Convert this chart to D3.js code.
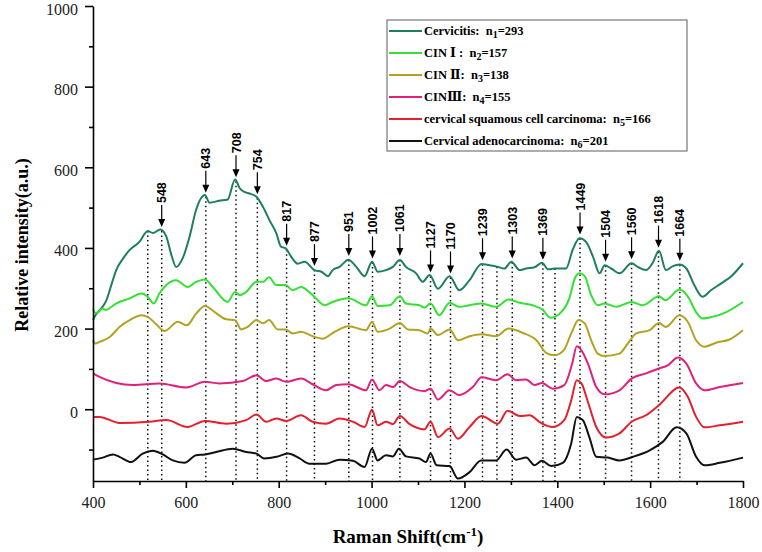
<!DOCTYPE html>
<html lang="en">
<head>
<meta charset="utf-8">
<title>Raman spectra</title>
<script src="https://cdn.jsdelivr.net/npm/d3@7"></script>
<style>
  body { margin: 0; background: #fff; }
  svg { display: block; }
  .axis path, .axis line { stroke: #000; stroke-width: 1.6; }
</style>
</head>
<body>
<script>
// spectra: [raman shift, intensity]
var cervicitis = [[400,221],[407,236],[414,245],[428,268],[440,310],[450,345],[465,374],[479,395],[500,415],[518,442],[529,437],[545,446],[558,428],[568,386],[579,353],[593,374],[608,428],[622,494],[641,531],[651,512],[672,517],[690,520],[706,570],[716,548],[726,539],[737,535],[752,527],[766,502],[780,469],[795,436],[805,403],[815,399],[827,378],[841,361],[856,366],[877,345],[892,341],[906,330],[916,345],[931,353],[950,371],[967,353],[985,330],[1001,366],[1013,341],[1031,345],[1046,353],[1061,370],[1074,353],[1096,337],[1110,316],[1125,333],[1143,299],[1168,330],[1189,295],[1211,320],[1237,360],[1254,357],[1272,353],[1286,349],[1301,366],[1319,345],[1333,349],[1351,352],[1367,363],[1380,347],[1394,349],[1419,349],[1433,395],[1448,424],[1462,415],[1477,378],[1491,337],[1502,357],[1516,349],[1534,337],[1560,362],[1573,353],[1591,345],[1605,362],[1619,393],[1634,345],[1649,355],[1663,359],[1678,349],[1695,308],[1713,279],[1731,295],[1753,312],[1775,330],[1800,362]];
var cin1 = [[400,248],[405,239],[410,240],[421,250],[428,246],[442,256],[450,262],[479,275],[504,287],[518,279],[531,262],[543,287],[558,308],[579,320],[604,303],[622,316],[641,322],[658,303],[690,266],[706,291],[716,283],[730,291],[752,316],[766,316],[779,327],[795,308],[815,308],[830,295],[848,303],[873,283],[899,258],[916,266],[950,275],[988,258],[1001,280],[1013,256],[1039,258],[1061,280],[1074,262],[1103,258],[1114,252],[1127,262],[1146,233],[1168,264],[1189,254],[1211,258],[1237,262],[1268,254],[1295,272],[1319,264],[1347,258],[1369,246],[1385,227],[1405,237],[1426,275],[1439,328],[1448,337],[1459,330],[1473,283],[1487,258],[1502,262],[1527,254],[1560,266],[1584,258],[1619,280],[1633,270],[1663,297],[1681,280],[1699,241],[1713,225],[1734,229],[1764,241],[1800,266]];
var cin2 = [[400,171],[405,163],[414,167],[436,179],[457,204],[479,221],[504,233],[518,229],[536,211],[554,194],[583,217],[602,208],[622,237],[641,256],[662,241],[687,223],[706,221],[719,198],[733,204],[752,221],[766,213],[779,221],[798,198],[815,198],[830,188],[848,192],[873,181],[895,175],[916,189],[950,206],[988,196],[1001,217],[1013,192],[1039,200],[1061,214],[1078,198],[1103,196],[1121,188],[1127,200],[1143,184],[1168,198],[1186,171],[1211,181],[1237,186],[1268,181],[1295,200],[1326,189],[1355,171],[1376,140],[1394,134],[1415,148],[1430,188],[1446,221],[1459,213],[1473,171],[1487,138],[1502,132],[1534,138],[1552,163],[1570,188],[1599,196],[1619,214],[1634,204],[1663,233],[1681,217],[1699,171],[1717,155],[1742,165],[1771,173],[1800,196]];
var cin3 = [[400,89],[414,80],[450,65],[486,60],[543,64],[601,54],[641,68],[672,64],[723,70],[752,84],[773,70],[795,76],[816,68],[848,76],[873,62],[902,47],[924,60],[950,62],[988,47],[1001,74],[1017,47],[1031,60],[1046,55],[1061,70],[1082,55],[1114,45],[1127,51],[1143,24],[1168,47],[1189,35],[1218,55],[1237,79],[1268,72],[1293,87],[1311,72],[1333,74],[1351,60],[1367,65],[1390,51],[1415,60],[1432,113],[1442,156],[1452,146],[1466,113],[1484,55],[1502,37],[1534,47],[1560,76],[1591,89],[1619,101],[1638,109],[1660,128],[1678,113],[1699,64],[1717,47],[1750,55],[1800,65]];
var squamous = [[400,-19],[414,-19],[457,-34],[521,-31],[558,-27],[604,-44],[641,-29],[687,-36],[730,-27],[752,-13],[773,-31],[795,-23],[816,-29],[848,-15],[873,-31],[902,-36],[931,-23],[960,-31],[985,-44],[1001,-1],[1013,-40],[1031,-31],[1046,-37],[1061,-17],[1082,-37],[1114,-50],[1127,-31],[1143,-69],[1168,-48],[1186,-73],[1211,-44],[1237,-17],[1272,-36],[1293,-4],[1319,-17],[1340,-15],[1365,-34],[1390,-44],[1415,-27],[1430,22],[1442,72],[1452,64],[1466,18],[1484,-44],[1505,-70],[1534,-60],[1560,-31],[1591,-15],[1619,10],[1663,54],[1681,31],[1699,-19],[1717,-45],[1750,-40],[1800,-31]];
var adeno = [[400,-125],[421,-120],[443,-112],[457,-118],[482,-131],[507,-110],[529,-103],[550,-112],[572,-127],[597,-133],[622,-114],[641,-112],[665,-106],[701,-98],[730,-106],[752,-110],[769,-122],[795,-118],[820,-110],[845,-122],[866,-135],[902,-135],[931,-125],[960,-128],[985,-143],[1001,-98],[1013,-127],[1031,-114],[1046,-117],[1059,-98],[1074,-117],[1103,-122],[1117,-131],[1127,-110],[1140,-139],[1168,-141],[1186,-172],[1211,-156],[1236,-127],[1268,-127],[1291,-100],[1311,-125],[1333,-120],[1351,-139],[1367,-128],[1387,-141],[1412,-133],[1430,-85],[1442,-19],[1455,-27],[1469,-69],[1484,-118],[1509,-120],[1534,-127],[1563,-118],[1599,-102],[1627,-81],[1657,-45],[1678,-60],[1699,-118],[1717,-139],[1750,-133],[1800,-120]];

var seriesData = [cervicitis, cin1, cin2, cin3, squamous, adeno];
var seriesColors = ["#1f7f5c", "#33e033", "#b3a222", "#e0207a", "#e3202c", "#111111"];
var legendNames = ["Cervicitis:  n", "CIN Ⅰ :  n", "CIN Ⅱ:  n", "CINⅢ:  n", "cervical squamous cell carcinoma:  n", "Cervical adenocarcinoma:  n"];
var legendCounts = ["=293", "=157", "=138", "=155", "=166", "=201"];

// labelled bands and extra unlabelled guide lines
var peaks = [548, 643, 708, 754, 817, 877, 951, 1002, 1061, 1127, 1170, 1239, 1303, 1369, 1449, 1504, 1560, 1618, 1664];
var guides = [518, 1270, 1395];

var xTicks = [400, 600, 800, 1000, 1200, 1400, 1600, 1800];
var yTicks = [0, 200, 400, 600, 800, 1000];

var serif = "'Liberation Serif', 'DejaVu Serif', 'Times New Roman', Times, serif";
var sans = "'Liberation Sans', Arial, Helvetica, sans-serif";

var w = 762, h = 552;

var svg = d3.select("body").append("svg")
    .attr("width", w)
    .attr("height", h);

var x = d3.scaleLinear().domain([400, 1800]).range([93, 743]);
var y = d3.scaleLinear().domain([-178, 1000]).range([481, 6]);

// value of the top spectrum at a given shift (linear interpolation)
var bis = d3.bisector(function(d) { return d[0]; }).left;
function topAt(v) {
  var i = bis(cervicitis, v);
  if (i <= 0) return cervicitis[0][1];
  var a = cervicitis[i - 1], b = cervicitis[i];
  return a[1] + (b[1] - a[1]) * (v - a[0]) / (b[0] - a[0]);
}

// dotted guide lines
svg.append("g").selectAll("line")
    .data(peaks.concat(guides))
    .enter().append("line")
    .attr("x1", function(d) { return x(d); })
    .attr("x2", function(d) { return x(d); })
    .attr("y1", function(d) { return y(topAt(d)); })
    .attr("y2", y(-178))
    .attr("stroke", "#111")
    .attr("stroke-width", 1.5)
    .attr("stroke-dasharray", "1.5 3");

// spectra
var line = d3.line()
    .x(function(d) { return x(d[0]); })
    .y(function(d) { return y(d[1]); })
    .curve(d3.curveMonotoneX);

svg.append("g").selectAll("path")
    .data(seriesData)
    .enter().append("path")
    .attr("d", line)
    .attr("fill", "none")
    .attr("stroke", function(d, i) { return seriesColors[i]; })
    .attr("stroke-width", 2);

// axes
var minorX = d3.range(500, 1800, 200);
var minorY = d3.range(-100, 1000, 200);

svg.append("g")
    .attr("class", "axis")
    .attr("transform", "translate(0," + y(-178) + ")")
    .call(d3.axisBottom(x).tickValues(minorX).tickSize(4).tickFormat(""))
    .call(function(g) { g.select(".domain").remove(); });

svg.append("g")
    .attr("class", "axis")
    .attr("transform", "translate(0," + y(-178) + ")")
    .call(d3.axisBottom(x).tickValues(xTicks).tickSize(7).tickPadding(9).tickFormat(d3.format("d")).tickSizeOuter(0))
    .attr("font-family", serif)
    .attr("font-size", 16)
    .call(function(g) { g.selectAll("text").attr("fill", "#222"); });

svg.append("g")
    .attr("class", "axis")
    .attr("transform", "translate(" + x(400) + ",0)")
    .call(d3.axisLeft(y).tickValues(minorY).tickSize(4).tickFormat(""))
    .call(function(g) { g.select(".domain").remove(); });

svg.append("g")
    .attr("class", "axis")
    .attr("transform", "translate(" + x(400) + ",0)")
    .call(d3.axisLeft(y).tickValues(yTicks).tickSize(8).tickPadding(7).tickFormat(d3.format("d")).tickSizeOuter(0))
    .attr("font-family", serif)
    .attr("font-size", 16)
    .call(function(g) { g.selectAll("text").attr("fill", "#222").attr("dy", "0.5em"); });

// axis titles
svg.append("text")
    .attr("transform", "translate(22,245) rotate(-90)")
    .attr("text-anchor", "middle")
    .attr("dy", "0.35em")
    .attr("font-family", serif)
    .attr("font-weight", "bold")
    .attr("font-size", 18)
    .text("Relative intensity(a.u.)");

var xt = svg.append("text")
    .attr("x", 408)
    .attr("y", 543)
    .attr("text-anchor", "middle")
    .attr("font-family", serif)
    .attr("font-weight", "bold")
    .attr("font-size", 19);
xt.append("tspan").text("Raman Shift(cm");
xt.append("tspan").attr("dy", -7).attr("font-size", 13).text("-1");
xt.append("tspan").attr("dy", 7).text(")");

// peak arrows and labels
var pk = svg.append("g").selectAll("g")
    .data(peaks)
    .enter().append("g")
    .attr("transform", function(d) { return "translate(" + x(d) + "," + (y(topAt(d)) - 4) + ")"; });

pk.append("line")
    .attr("y1", -22)
    .attr("y2", -6)
    .attr("stroke", "#000")
    .attr("stroke-width", 1.2);

pk.append("path")
    .attr("d", "M-3.5,-8L3.5,-8L0,0Z")
    .attr("fill", "#000");

pk.append("text")
    .attr("transform", "translate(0,-24) rotate(-90)")
    .attr("dy", "0.36em")
    .attr("font-family", sans)
    .attr("font-weight", "bold")
    .attr("font-size", 12.5)
    .text(function(d) { return d; });

// legend
var lg = svg.append("g");
lg.append("rect")
    .attr("x", 387).attr("y", 20)
    .attr("width", 300).attr("height", 131)
    .attr("fill", "#fff")
    .attr("stroke", "#777")
    .attr("stroke-width", 1.2);

var row = lg.selectAll("g.row")
    .data(legendNames)
    .enter().append("g")
    .attr("class", "row")
    .attr("transform", function(d, i) { return "translate(389," + (31 + i * 22) + ")"; });

row.append("line")
    .attr("x1", 0).attr("x2", 33)
    .attr("stroke", function(d, i) { return seriesColors[i]; })
    .attr("stroke-width", 2);

var lt = row.append("text")
    .attr("x", 35)
    .attr("dy", "0.35em")
    .attr("font-family", serif)
    .attr("font-weight", "bold")
    .attr("font-size", 12.5)
    .style("white-space", "pre");
lt.append("tspan").text(function(d) { return d; });
lt.append("tspan").attr("dy", 3).attr("font-size", 10).text(function(d, i) { return i + 1; });
lt.append("tspan").attr("dy", -3).text(function(d, i) { return legendCounts[i]; });
</script>
</body>
</html>
